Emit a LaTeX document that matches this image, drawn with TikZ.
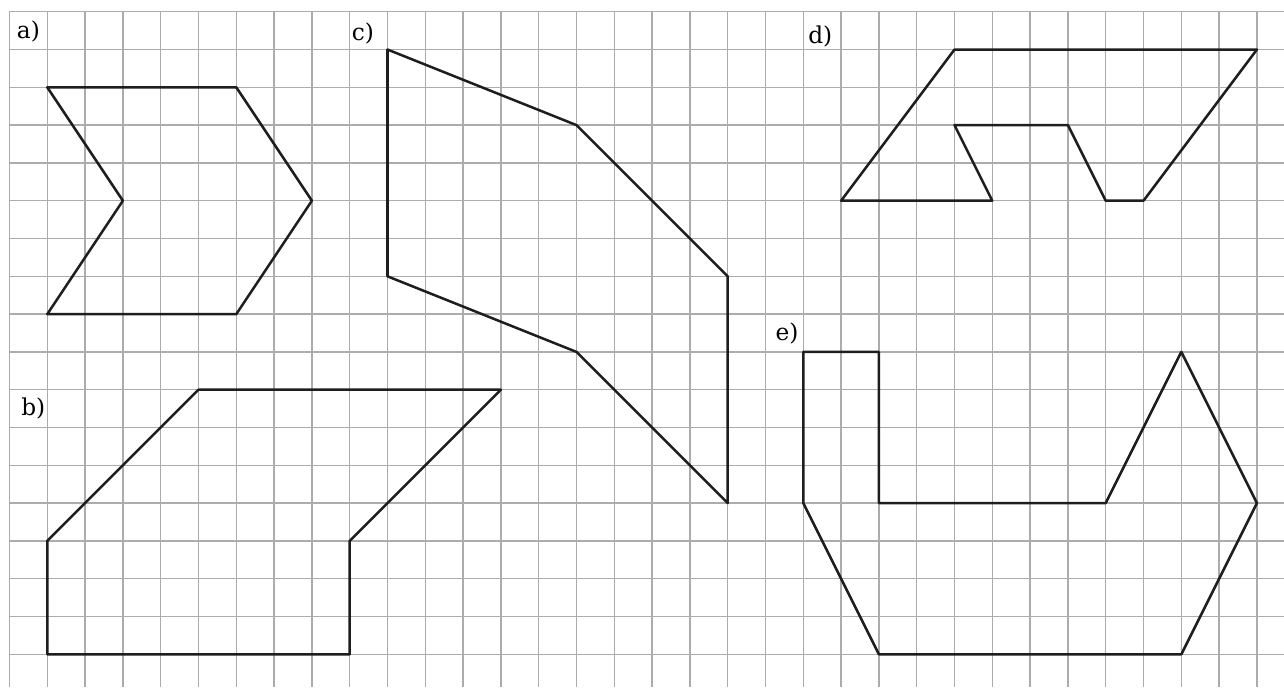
\documentclass[tikz,border=0pt]{standalone}
\usepackage{fontspec}
\usepackage{amsmath}
\usepackage{tikz}
\usepackage{tkz-euclide}
\usepackage{xcolor}
\newfontfamily\partserif{DejaVu Serif}
\definecolor{gridgray}{RGB}{172,172,172}
\definecolor{inkline}{RGB}{30,30,30}
\newcommand{\partfont}{\partserif\fontsize{17.5}{20}\selectfont}
\tikzset{
  gridline/.style={line width=1.1pt,color=gridgray},
  figline/.style={line width=1.9pt,color=inkline},
  partlabel/.style={inner sep=0pt}
}
\begin{document}
\begin{tikzpicture}
    \useasboundingbox (-0.251,-0.865) rectangle (33.717,17.31);
    \draw[gridline,step=1] (0,-0.865) grid (33.717,17);
    \tkzDefPoints{1/15/A1,6/15/A2,8/12/A3,6/9/A4,1/9/A5,3/12/A6}
    \tkzDefPoints{1/3/B1,5/7/B2,13/7/B3,9/3/B4,9/0/B5,1/0/B6}
    \tkzDefPoints{10/16/C1,15/14/C2,19/10/C3,19/4/C4,15/8/C5,10/10/C6}
    \tkzDefPoints{25/16/D1,33/16/D2,30/12/D3,29/12/D4,28/14/D5,25/14/D6,26/12/D7,22/12/D8}
    \tkzDefPoints{21/8/E1,23/8/E2,23/4/E3,29/4/E4,31/8/E5,33/4/E6,31/0/E7,23/0/E8,21/4/E9}
    \tkzDrawPolygon[figline](A1,A2,A3,A4,A5,A6)
    \tkzDrawPolygon[figline](B1,B2,B3,B4,B5,B6)
    \tkzDrawPolygon[figline](C1,C2,C3,C4,C5,C6)
    \tkzDrawPolygon[figline](D1,D2,D3,D4,D5,D6,D7,D8)
    \tkzDrawPolygon[figline](E1,E2,E3,E4,E5,E6,E7,E8,E9)
    % labels of the five figures
    \node[partlabel] (la) at (0.50,16.48) {\partfont a)};
    \node[partlabel] (lb) at (0.63,6.50) {\partfont b)};
    \node[partlabel] (lc) at (9.35,16.42) {\partfont c)};
    \node[partlabel] (ld) at (21.45,16.34) {\partfont d)};
    \node[partlabel] (le) at (20.57,8.49) {\partfont e)};
\end{tikzpicture}
\end{document}
